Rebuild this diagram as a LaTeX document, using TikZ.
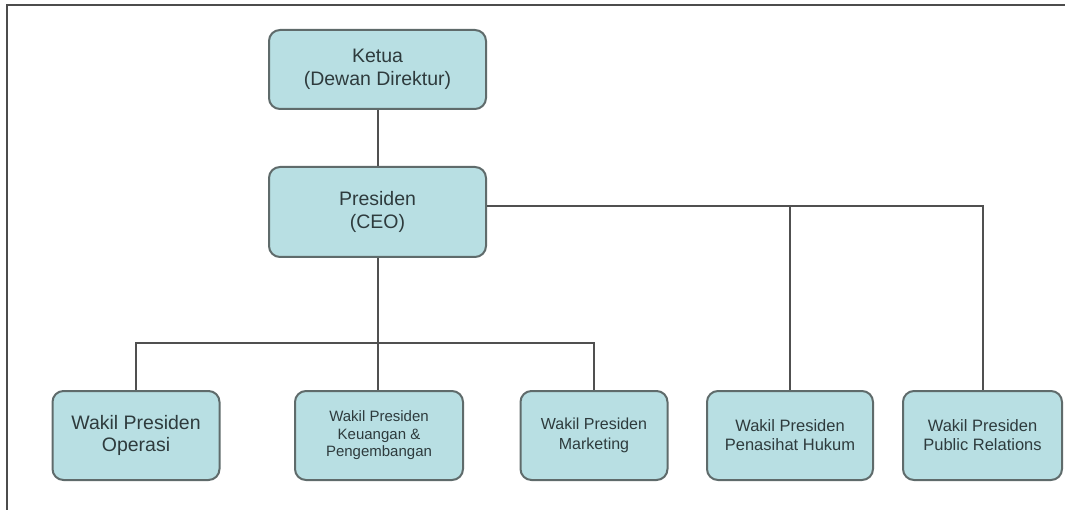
\documentclass[tikz,border=0pt]{standalone}
\usepackage{fontspec}
\setmainfont{Liberation Sans}
\definecolor{boxfill}{HTML}{B8DFE3}
\definecolor{boxline}{HTML}{5F6B6B}
\definecolor{txt}{HTML}{2E3B3D}
\definecolor{wire}{HTML}{505050}
\begin{document}
\begin{tikzpicture}[x=1pt,y=-1pt,
  orgbox/.style={draw=boxline, line width=2pt, fill=boxfill, rounded corners=11pt,
    inner sep=0pt, align=center, text=txt},
  wire/.style={draw=wire, line width=2pt},
  frame/.style={draw=black!70, line width=2.2pt}]
\useasboundingbox (0,0) rectangle (1065,510);
\draw[frame] (7,510) -- (7,5) -- (1065,5);

\node[orgbox, minimum width=217pt, minimum height=79pt, font=\fontsize{19.5}{23}\selectfont] (ketua) at (377.5,69.5) {Ketua\\(Dewan Direktur)};
\node[orgbox, minimum width=217pt, minimum height=90pt, font=\fontsize{19.5}{23}\selectfont] (pres) at (377.5,212) {Presiden\\(CEO)};

\node[orgbox, minimum width=167pt, minimum height=89pt, font=\fontsize{19.5}{22}\selectfont] (ops) at (136,435.5) {Wakil Presiden\\Operasi};
\node[orgbox, minimum width=168pt, minimum height=89pt, font=\fontsize{15}{17.5}\selectfont] (keu) at (379,435.5) {Wakil Presiden\\Keuangan \&\\Pengembangan};
\node[orgbox, minimum width=147pt, minimum height=89pt, font=\fontsize{16}{20}\selectfont] (mkt) at (594,435.5) {Wakil Presiden\\Marketing};
\node[orgbox, minimum width=166pt, minimum height=89pt, font=\fontsize{16.5}{19}\selectfont] (hukum) at (790,435.5) {Wakil Presiden\\Penasihat Hukum};
\node[orgbox, minimum width=159pt, minimum height=89pt, font=\fontsize{16.5}{19}\selectfont] (pr) at (982.5,435.5) {Wakil Presiden\\Public Relations};

\coordinate (bus) at (377.5,343);
\coordinate (rbus) at (486,206);

\draw[wire] (ketua.south) -- (pres.north);
\draw[wire] (pres.south) -- (pres.south |- keu.north);
\draw[wire] (ops.north) |- (bus) -| (mkt.north);
\draw[wire] (rbus -| pres.east) -| (hukum.north);
\draw[wire] (rbus -| pres.east) -| (pr.north);
\end{tikzpicture}
\end{document}
